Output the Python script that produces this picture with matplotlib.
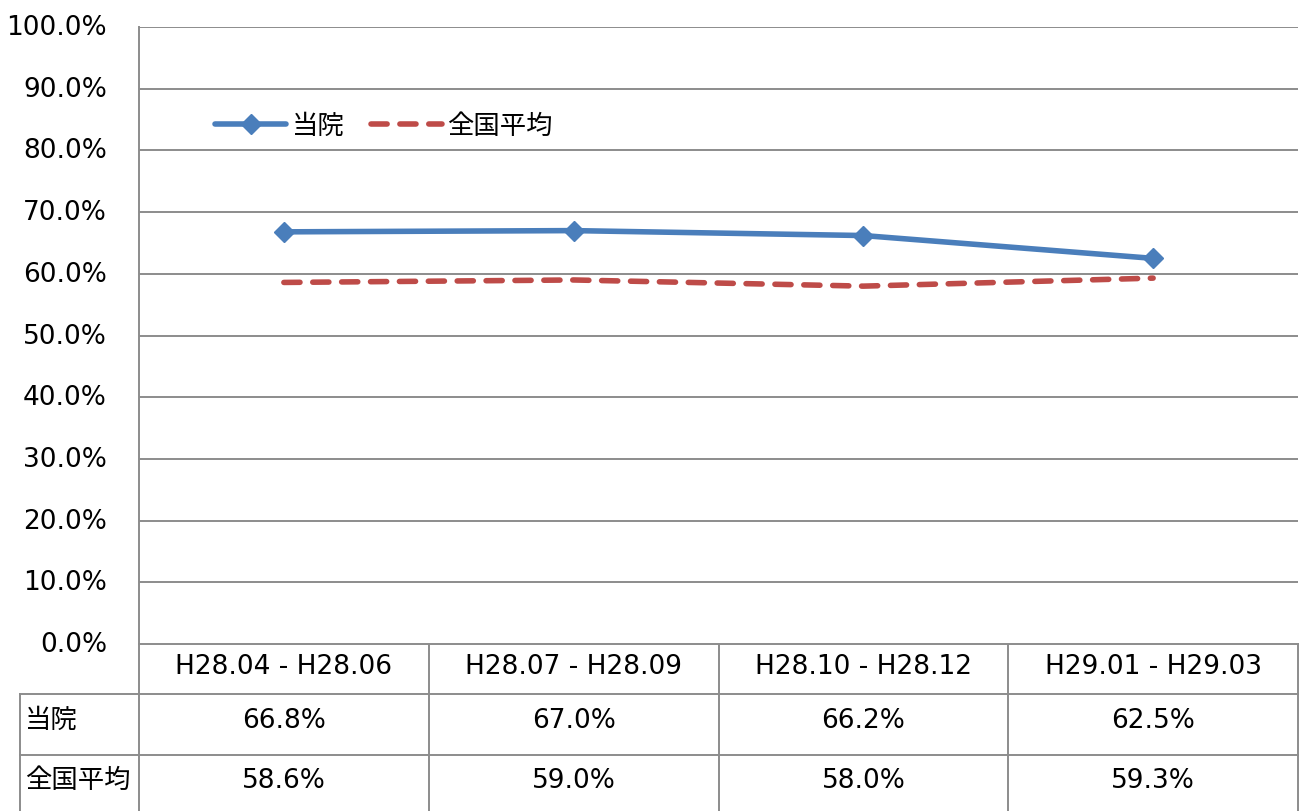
import matplotlib
matplotlib.use("Agg")
import matplotlib.pyplot as plt
from matplotlib.transforms import ScaledTranslation
import numpy as np

plt.rcParams['font.family'] = ['DejaVu Sans', 'Noto Sans CJK JP']

categories = ["H28.04 - H28.06", "H28.07 - H28.09", "H28.10 - H28.12", "H29.01 - H29.03"]
series_names = ["当院", "全国平均"]
hospital = [66.8, 67.0, 66.2, 62.5]
national = [58.6, 59.0, 58.0, 59.3]
yticks = list(range(0, 101, 10))

W, H = 1301, 812
fig = plt.figure(figsize=(W / 100, H / 100), dpi=100)
fig.patch.set_facecolor("white")

L, R, T, B = 139, 1298, 28, 645
ax = fig.add_axes([L / W, (H - B) / H, (R - L) / W, (B - T) / H])
grid_c = "#8c8c8c"
fs = 19

x = np.arange(len(categories))
ax.plot(x, hospital, color="#4a7ebb", lw=4.0, marker="D", ms=10.5,
        solid_capstyle="round", label=series_names[0], zorder=3)
ax.plot(x, national, color="#be4b48", lw=4.0, dashes=(2.9, 2.3),
        dash_capstyle="round", label=series_names[1], zorder=3)

ax.set_xlim(-0.5, len(categories) - 0.5)
ax.set_ylim(0, 100)
ax.set_yticks(yticks)
ax.set_yticklabels([f"{v:.1f}%" for v in yticks], fontsize=fs)
ax.set_xticks([])
ax.tick_params(axis="y", length=0, pad=23)
for lab in ax.get_yticklabels():
    lab.set_transform(lab.get_transform() + ScaledTranslation(0, 3 / 100, fig.dpi_scale_trans))
ax.grid(axis="y", color=grid_c, lw=1.4)
ax.set_axisbelow(True)
for s in ["top", "right", "bottom"]:
    ax.spines[s].set_visible(False)
ax.spines["left"].set_color(grid_c)
ax.spines["left"].set_linewidth(1.4)

leg = ax.legend(loc="center left", bbox_to_anchor=((215 - L) / (R - L), (B - 127) / (B - T)),
                ncol=2, frameon=False, fontsize=fs, handlelength=2.7, handletextpad=0.2,
                columnspacing=1.0, borderpad=0, borderaxespad=0, numpoints=1)

# data table below the plot (pixel coordinates)
tab = fig.add_axes([0, 0, 1, 1], zorder=-1)
tab.set_xlim(0, W)
tab.set_ylim(H, 0)
tab.axis("off")
col_edges = np.linspace(L, R, len(categories) + 1)
row_edges = [645, 695, 756, 830]
lkw = dict(color=grid_c, lw=1.4, clip_on=False)
tab.plot([L, R], [row_edges[0]] * 2, **lkw)
for ry in row_edges[1:3]:
    tab.plot([20, R], [ry, ry], **lkw)
for cx in col_edges:
    tab.plot([cx, cx], [row_edges[0], row_edges[-1]], **lkw)
tab.plot([20, 20], [row_edges[1], row_edges[-1]], **lkw)

centers = (col_edges[:-1] + col_edges[1:]) / 2
for cx, c in zip(centers, categories):
    tab.text(cx, 667, c, ha="center", va="center", fontsize=fs)
for cx, v in zip(centers, hospital):
    tab.text(cx, 721, f"{v:.1f}%", ha="center", va="center", fontsize=fs)
for cx, v in zip(centers, national):
    tab.text(cx, 781, f"{v:.1f}%", ha="center", va="center", fontsize=fs)
tab.text(25, 721, series_names[0], ha="left", va="center", fontsize=fs)
tab.text(25, 781, series_names[1], ha="left", va="center", fontsize=fs)

fig.savefig("out.png", dpi=100, facecolor="white")
